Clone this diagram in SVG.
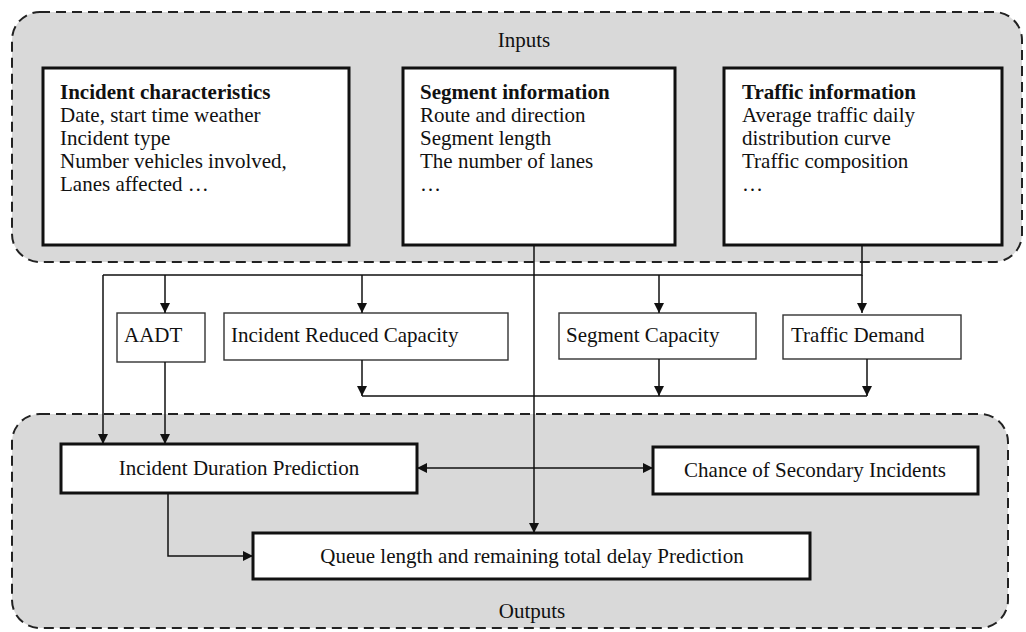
<svg xmlns="http://www.w3.org/2000/svg" width="1026" height="632" viewBox="0 0 1026 632">
  <style>
    text { font-family: "Liberation Serif", "Times New Roman", serif; font-size: 21px; fill: #111; }
    .title { font-weight: bold; }
    .mid { text-anchor: middle; }
    .zone { fill: #d9d9d9; stroke: #222; stroke-width: 2; stroke-dasharray: 10 6; }
    .thick { fill: #fff; stroke: #111; stroke-width: 3; }
    .thin { fill: #fff; stroke: #333; stroke-width: 1.4; }
    .wire { fill: none; stroke: #111; stroke-width: 1.5; }
  </style>
  <defs>
    <marker id="arrow" markerUnits="userSpaceOnUse" markerWidth="10" markerHeight="10" refX="10" refY="5" orient="auto-start-reverse" viewBox="0 0 10 10">
      <path d="M0,0 L10,5 L0,10 z" fill="#111"/>
    </marker>
  </defs>

  <rect width="1026" height="632" fill="#fff"/>

  <!-- containers -->
  <g id="inputs-zone">
    <rect class="zone" x="12" y="12" width="1010" height="250" rx="28"/>
    <text class="mid" x="524" y="47">Inputs</text>
  </g>
  <g id="outputs-zone">
    <rect class="zone" x="12" y="414" width="996" height="214" rx="28"/>
    <text class="mid" x="532" y="618">Outputs</text>
  </g>

  <!-- input boxes -->
  <g id="incident-characteristics">
    <rect class="thick" x="43" y="68" width="306" height="177"/>
    <text class="title" x="60" y="99">Incident characteristics</text>
    <text x="60" y="122">Date, start time weather</text>
    <text x="60" y="145">Incident type</text>
    <text x="60" y="168">Number vehicles involved,</text>
    <text x="60" y="191">Lanes affected …</text>
  </g>
  <g id="segment-information">
    <rect class="thick" x="403" y="68" width="272" height="177"/>
    <text class="title" x="420" y="99">Segment information</text>
    <text x="420" y="122">Route and direction</text>
    <text x="420" y="145">Segment length</text>
    <text x="420" y="168">The number of lanes</text>
    <text x="420" y="191">…</text>
  </g>
  <g id="traffic-information">
    <rect class="thick" x="724" y="68" width="278" height="177"/>
    <text class="title" x="742" y="99">Traffic information</text>
    <text x="742" y="122">Average traffic daily</text>
    <text x="742" y="145">distribution curve</text>
    <text x="742" y="168">Traffic composition</text>
    <text x="742" y="191">…</text>
  </g>

  <!-- intermediate quantities -->
  <g id="aadt">
    <rect class="thin" x="117" y="313" width="88" height="49"/>
    <text x="124" y="342">AADT</text>
  </g>
  <g id="incident-reduced-capacity">
    <rect class="thin" x="224" y="313" width="284" height="47"/>
    <text x="231" y="342">Incident Reduced Capacity</text>
  </g>
  <g id="segment-capacity">
    <rect class="thin" x="559" y="313" width="197" height="46"/>
    <text x="566" y="342">Segment Capacity</text>
  </g>
  <g id="traffic-demand">
    <rect class="thin" x="783" y="315" width="178" height="44"/>
    <text x="791" y="342">Traffic Demand</text>
  </g>

  <!-- outputs -->
  <g id="incident-duration-prediction">
    <rect class="thick" x="61" y="444" width="356" height="49"/>
    <text class="mid" x="239" y="475">Incident Duration Prediction</text>
  </g>
  <g id="secondary-incidents">
    <rect class="thick" x="653" y="447" width="325" height="47"/>
    <text class="mid" x="815" y="477">Chance of Secondary Incidents</text>
  </g>
  <g id="queue-delay-prediction">
    <rect class="thick" x="253" y="533" width="557" height="46"/>
    <text class="mid" x="532" y="563">Queue length and remaining total delay Prediction</text>
  </g>

  <!-- connectors -->
  <g id="connectors">
    <!-- traffic information feed and distribution bus -->
    <path class="wire" d="M862,245 V275 H103"/>
    <path class="wire" d="M862,275 V313" marker-end="url(#arrow)"/>
    <path class="wire" d="M103,275 V444" marker-end="url(#arrow)"/>
    <path class="wire" d="M165,275 V313" marker-end="url(#arrow)"/>
    <path class="wire" d="M362,275 V313" marker-end="url(#arrow)"/>
    <path class="wire" d="M659,275 V313" marker-end="url(#arrow)"/>
    <!-- segment information straight down to queue prediction -->
    <path class="wire" d="M534,245 V533" marker-end="url(#arrow)"/>
    <!-- capacity / demand merge -->
    <path class="wire" d="M362,360 V396" marker-end="url(#arrow)"/>
    <path class="wire" d="M659,359 V396" marker-end="url(#arrow)"/>
    <path class="wire" d="M867,359 V396" marker-end="url(#arrow)"/>
    <path class="wire" d="M362,396 H867"/>
    <!-- AADT to duration -->
    <path class="wire" d="M165,362 V444" marker-end="url(#arrow)"/>
    <!-- duration and secondary incidents -->
    <path class="wire" d="M417,468 H653" marker-start="url(#arrow)" marker-end="url(#arrow)"/>
    <!-- duration to queue prediction -->
    <path class="wire" d="M168,493 V556 H253" marker-end="url(#arrow)"/>
  </g>
</svg>
